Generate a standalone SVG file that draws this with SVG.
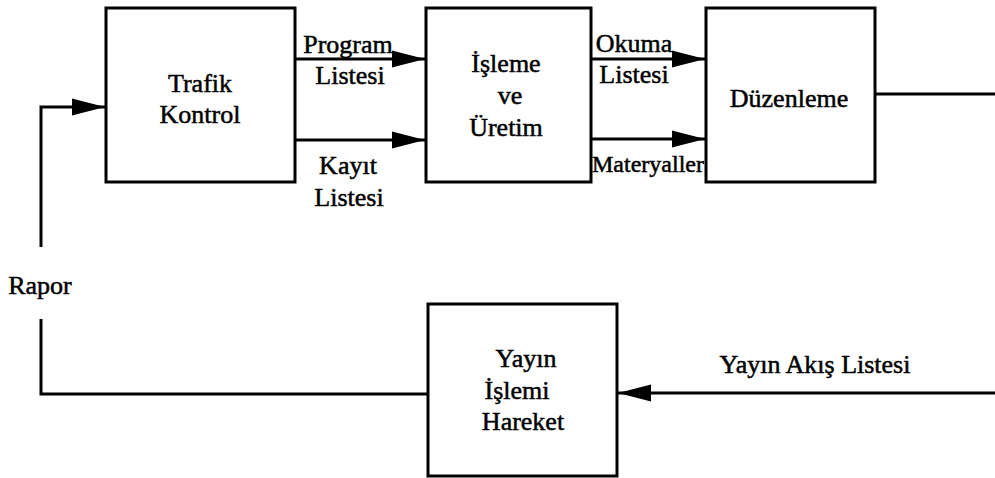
<svg xmlns="http://www.w3.org/2000/svg" width="995" height="478" viewBox="0 0 995 478">
  <style>
    .box { fill: #ffffff; stroke: #000000; stroke-width: 3; }
    .wire { fill: none; stroke: #000000; stroke-width: 3; }
    .lbl { font-family: "Liberation Serif", "Times New Roman", serif; font-size: 26px; fill: #000000; stroke: #000000; stroke-width: 0.5; text-anchor: middle; }
  </style>
  <defs>
    <marker id="arrow" markerUnits="userSpaceOnUse" markerWidth="34" markerHeight="18" refX="33" refY="9" orient="auto">
      <path d="M0,0.5 L33,9 L0,17.5 z" fill="#000000"/>
    </marker>
  </defs>

  <rect width="995" height="478" fill="#ffffff"/>

  <g id="connectors">
    <!-- report loop back into traffic control -->
    <path class="wire" d="M428,394 H41 V319"/>
    <path class="wire" d="M41,247 V107 H105" marker-end="url(#arrow)"/>
    <!-- traffic control to processing -->
    <path class="wire" d="M295,59 H425" marker-end="url(#arrow)"/>
    <path class="wire" d="M295,140 H425" marker-end="url(#arrow)"/>
    <!-- processing to editing -->
    <path class="wire" d="M591,59 H705" marker-end="url(#arrow)"/>
    <path class="wire" d="M591,139 H705" marker-end="url(#arrow)"/>
    <!-- editing output, wraps round to the broadcast log -->
    <path class="wire" d="M875,94 H995"/>
    <path class="wire" d="M995,393 H618" marker-end="url(#arrow)"/>
  </g>

  <g id="connector-labels">
    <text class="lbl" x="348" y="53">Program</text>
    <text class="lbl" x="350" y="84">Listesi</text>
    <text class="lbl" x="348" y="174">Kayıt</text>
    <text class="lbl" x="349" y="206">Listesi</text>
    <text class="lbl" x="634" y="52">Okuma</text>
    <text class="lbl" x="634" y="83">Listesi</text>
    <text class="lbl" x="648" y="172" style="font-size:24px">Materyaller</text>
    <text class="lbl" x="40" y="294">Rapor</text>
    <text class="lbl" x="815" y="373">Yayın Akış Listesi</text>
  </g>

  <g id="trafik-kontrol">
    <rect class="box" x="106" y="8" width="189" height="174"/>
    <text class="lbl" x="200" y="92">Trafik</text>
    <text class="lbl" x="200" y="123">Kontrol</text>
  </g>

  <g id="isleme-ve-uretim">
    <rect class="box" x="426" y="8" width="165" height="174"/>
    <text class="lbl" x="506" y="72">İşleme</text>
    <text class="lbl" x="510" y="104">ve</text>
    <text class="lbl" x="506" y="136">Üretim</text>
  </g>

  <g id="duzenleme">
    <rect class="box" x="706" y="8" width="169" height="174"/>
    <text class="lbl" x="789" y="107">Düzenleme</text>
  </g>

  <g id="yayin-islemi-hareket">
    <rect class="box" x="428" y="304" width="189" height="172"/>
    <text class="lbl" x="526" y="367">Yayın</text>
    <text class="lbl" x="517" y="399">İşlemi</text>
    <text class="lbl" x="523" y="430">Hareket</text>
  </g>
</svg>
